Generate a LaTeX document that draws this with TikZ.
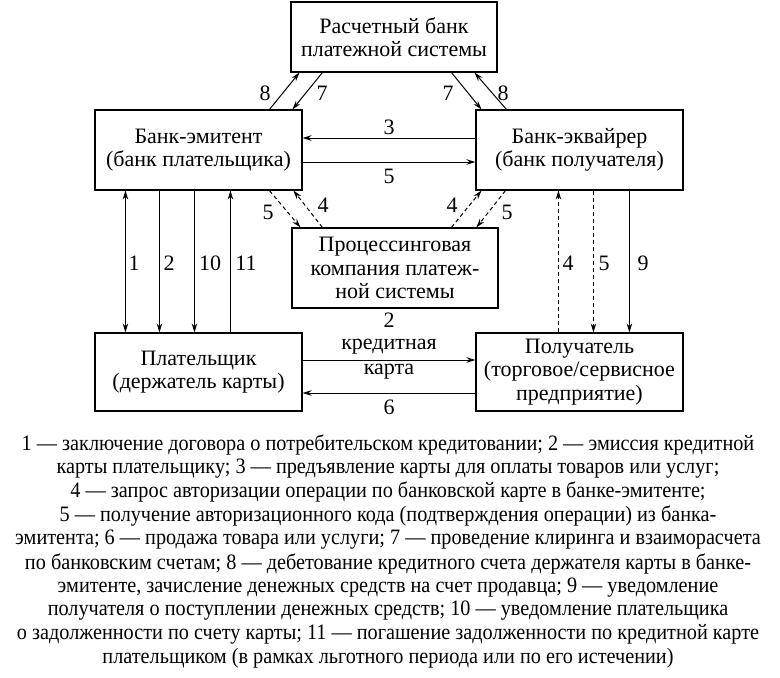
\documentclass[tikz,border=0pt]{standalone}
\usepackage{fontspec}
\setmainfont{Liberation Serif}
\newfontfamily\capfont[FakeStretch=0.92]{Liberation Serif}
\usetikzlibrary{arrows.meta,calc}
\begin{document}
\begin{tikzpicture}[x=1pt,y=-1pt,
  box/.style={draw,line width=1.1pt,inner sep=0pt,align=center,font=\fontsize{22}{23.5}\selectfont},
  lbl/.style={inner sep=0pt,font=\fontsize{22}{23.5}\selectfont},
  captext/.style={inner sep=0pt,font=\capfont\fontsize{22}{24}\selectfont},
  con/.style={line width=1pt,-{Stealth[length=9pt,width=5.5pt]}},
  dcon/.style={con,dash pattern=on 4pt off 3pt}]
\useasboundingbox (0,0) rectangle (780,678);
\node[box,minimum width=206pt,minimum height=70pt] (top) at (394,37) {Расчетный банк\\платежной системы};
\node[box,minimum width=207pt,minimum height=80pt] (lb) at (198.5,150) {Банк-эмитент\\(банк плательщика)};
\node[box,minimum width=207pt,minimum height=80pt] (rb) at (579.5,150) {Банк-эквайрер\\(банк получателя)};
\node[box,minimum width=206pt,minimum height=80pt] (pc) at (395,268) {Процессинговая\\компания платеж-\\ной системы};
\node[box,minimum width=207pt,minimum height=78pt] (pay) at (198.5,372) {Плательщик\\(держатель карты)};
\node[box,minimum width=207pt,minimum height=78pt] (rec) at (579.5,372) {Получатель\\(торговое/сервисное\\предприятие)};
% top diagonals
\draw[con] ($(lb.north west)+(175,0)$) -- ($(top.south west)+(9,0)$);
\draw[con] ($(top.south west)+(32,0)$) -- ($(lb.north west)+(198,0)$);
\draw[con] ($(top.south west)+(161,0)$) -- ($(rb.north west)+(6,0)$);
\draw[con] ($(rb.north west)+(31,0)$) -- ($(top.south west)+(184,0)$);
\node[lbl] (l8a) at (265,93) {8};
\node[lbl] (l7a) at (322,93) {7};
\node[lbl] (l7b) at (448,93) {7};
\node[lbl] (l8b) at (503,93) {8};
% horizontals between banks
\draw[con] ($(rb.west)+(0,-12)$) -- ($(lb.east)+(0,-12)$);
\draw[con] ($(lb.east)+(0,12)$) -- ($(rb.west)+(0,12)$);
\node[lbl] (l3) at (389,127) {3};
\node[lbl] (l5h) at (389,176) {5};
% dashed to processing
\draw[dcon] ($(lb.south west)+(175,0)$) -- ($(pc.north west)+(9,0)$);
\draw[dcon] ($(pc.north west)+(31,0)$) -- ($(lb.south west)+(199,0)$);
\draw[dcon] ($(pc.north west)+(160,0)$) -- ($(rb.south west)+(6,0)$);
\draw[dcon] ($(rb.south west)+(30,0)$) -- ($(pc.north west)+(185,0)$);
\node[lbl] (l5a) at (268,212) {5};
\node[lbl] (l4a) at (323,205) {4};
\node[lbl] (l4b) at (452,205) {4};
\node[lbl] (l5b) at (507,212) {5};
% left verticals
\draw[con,{Stealth[length=9pt,width=5.5pt]}-{Stealth[length=9pt,width=5.5pt]}] ($(lb.south west)+(31,0)$) -- ($(pay.north west)+(31,0)$);
\draw[con] ($(lb.south west)+(65,0)$) -- ($(pay.north west)+(65,0)$);
\draw[con] ($(lb.south west)+(100,0)$) -- ($(pay.north west)+(100,0)$);
\draw[con] ($(pay.north west)+(136,0)$) -- ($(lb.south west)+(136,0)$);
\node[lbl] (l1) at (134,263) {1};
\node[lbl] (l2) at (169,263) {2};
\node[lbl] (l10) at (210,263) {10};
\node[lbl] (l11) at (246,263) {11};
% right verticals
\draw[dcon] ($(rec.north west)+(83,0)$) -- ($(rb.south west)+(83,0)$);
\draw[dcon] ($(rb.south west)+(118,0)$) -- ($(rec.north west)+(118,0)$);
\draw[con] ($(rb.south west)+(154,0)$) -- ($(rec.north west)+(154,0)$);
\node[lbl] (l4r) at (568,263) {4};
\node[lbl] (l5r) at (604,263) {5};
\node[lbl] (l9) at (643,263) {9};
% payer - recipient
\draw[con] ($(pay.east)+(0,-12)$) -- ($(rec.west)+(0,-12)$);
\draw[con] ($(rec.west)+(0,21)$) -- ($(pay.east)+(0,21)$);
\node[lbl] (l2b) at (389,320) {2};
\node[lbl] (lk1) at (389,347) {кредитная};
\node[lbl] (lk2) at (389,372) {карта};
\node[lbl] (l6) at (389,407) {6};
% caption
\node[captext] (c1) at (388,445) {1 — заключение договора о потребительском кредитовании; 2 — эмиссия кредитной};
\node[captext] (c2) at (388,468.7) {карты плательщику; 3 — предъявление карты для оплаты товаров или услуг;};
\node[captext] (c3) at (388,492.4) {4 — запрос авторизации операции по банковской карте в банке-эмитенте;};
\node[captext] (c4) at (388,516.1) {5 — получение авторизационного кода (подтверждения операции) из банка-};
\node[captext] (c5) at (388,539.8) {эмитента; 6 — продажа товара или услуги; 7 — проведение клиринга и взаиморасчета};
\node[captext] (c6) at (388,563.5) {по банковским счетам; 8 — дебетование кредитного счета держателя карты в банке-};
\node[captext] (c7) at (388,587.2) {эмитенте, зачисление денежных средств на счет продавца; 9 — уведомление};
\node[captext] (c8) at (388,610.9) {получателя о поступлении денежных средств; 10 — уведомление плательщика};
\node[captext] (c9) at (388,634.6) {о задолженности по счету карты; 11 — погашение задолженности по кредитной карте};
\node[captext] (c10) at (388,658.3) {плательщиком (в рамках льготного периода или по его истечении)};
\end{tikzpicture}
\end{document}
